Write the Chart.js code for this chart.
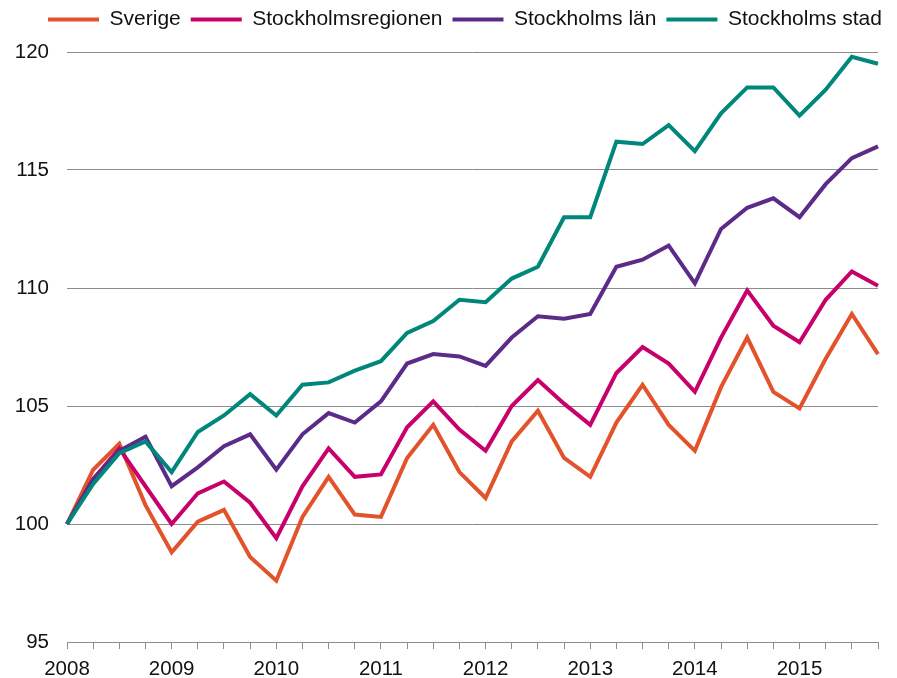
<!DOCTYPE html>
<html>
<head>
<meta charset="utf-8">
<title>Index</title>
<script src="https://cdn.jsdelivr.net/npm/chart.js@4"></script>
<style>
    html, body { margin: 0; padding: 0; background: #fff; }
    #wrap { width: 897px; height: 678px; }
</style>
</head>
<body>
<div id="wrap"><canvas id="chart" width="897" height="678"></canvas></div>
<script>
    // Quarters 2008 K1 .. 2015 K4
    const years = ['2008', '2009', '2010', '2011', '2012', '2013', '2014', '2015'];
    const quarters = ['K1', 'K2', 'K3', 'K4'];

    const sverige = [100, 102.3, 103.4, 100.8, 98.8, 100.1, 100.6, 98.6, 97.6, 100.3, 102.0, 100.4, 100.3, 102.8, 104.2, 102.2,
        101.1, 103.5, 104.8, 102.8, 102.0, 104.3, 105.9, 104.2, 103.1, 105.8, 107.9, 105.6, 104.9, 107.0, 108.9, 107.2];
    const stockholmsregionen = [100, 101.9, 103.2, 101.6, 100.0, 101.3, 101.8, 100.9, 99.4, 101.6, 103.2, 102.0, 102.1, 104.1, 105.2, 104.0,
        103.1, 105.0, 106.1, 105.1, 104.2, 106.4, 107.5, 106.8, 105.6, 107.9, 109.9, 108.4, 107.7, 109.5, 110.7, 110.1];
    const stockholmsLan = [100, 101.9, 103.1, 103.7, 101.6, 102.4, 103.3, 103.8, 102.3, 103.8, 104.7, 104.3, 105.2, 106.8, 107.2, 107.1,
        106.7, 107.9, 108.8, 108.7, 108.9, 110.9, 111.2, 111.8, 110.2, 112.5, 113.4, 113.8, 113.0, 114.4, 115.5, 116.0];
    const stockholmsStad = [100, 101.7, 103.0, 103.5, 102.2, 103.9, 104.6, 105.5, 104.6, 105.9, 106.0, 106.5, 106.9, 108.1, 108.6, 109.5,
        109.4, 110.4, 110.9, 113.0, 113.0, 116.2, 116.1, 116.9, 115.8, 117.4, 118.5, 118.5, 117.3, 118.4, 119.8, 119.5];

    const labels = [];
    years.forEach(function(y) {
        quarters.forEach(function(q) {
            labels.push(y + ' ' + q);
        });
    });

    const font = 'Liberation Sans, Arial, sans-serif';
    const gridColor = '#8c8c8c';
    const legendShiftX = 26;
    const legendShiftY = -12;

    function series(label, data, color, order) {
        return {
            label: label,
            data: data,
            borderColor: color,
            backgroundColor: color,
            borderWidth: 4,
            pointRadius: 0,
            tension: 0,
            order: order
        };
    }

    // The legend row is wider than the plot, so nudge it instead of centring on the canvas
    const legendShift = {
        id: 'legendShift',
        beforeDraw: function(chart) {
            const legend = chart.legend;
            if (!legend || legend._shifted) {
                return;
            }
            const draw = legend.draw;
            legend.draw = function() {
                chart.ctx.save();
                chart.ctx.translate(legendShiftX, legendShiftY);
                draw.apply(this, arguments);
                chart.ctx.restore();
            };
            legend._shifted = true;
        }
    };

    new Chart(document.getElementById('chart').getContext('2d'), {
        type: 'line',
        data: {
            labels: labels,
            datasets: [
                series('Sverige', sverige, '#e2532c', 4),
                series('Stockholmsregionen', stockholmsregionen, '#c8006c', 3),
                series('Stockholms län', stockholmsLan, '#5c2a88', 2),
                series('Stockholms stad', stockholmsStad, '#00877b', 1)
            ]
        },
        plugins: [legendShift],
        options: {
            responsive: false,
            animation: false,
            layout: {
                padding: { left: 0, right: 19, top: 0, bottom: 0 }
            },
            plugins: {
                tooltip: { enabled: false },
                legend: {
                    position: 'top',
                    labels: {
                        boxWidth: 51,
                        boxHeight: 0,
                        padding: 10,
                        color: '#111',
                        font: { family: font, size: 21 },
                        sort: function(a, b) {
                            return a.datasetIndex - b.datasetIndex;
                        }
                    }
                }
            },
            scales: {
                x: {
                    offset: false,
                    grid: {
                        drawOnChartArea: false,
                        drawTicks: true,
                        tickLength: 7,
                        color: gridColor
                    },
                    border: { display: true, color: gridColor, width: 1 },
                    ticks: {
                        autoSkip: false,
                        maxRotation: 0,
                        padding: 8,
                        color: '#111',
                        font: { family: font, size: 20.5 },
                        callback: function(value, index) {
                            return index % 4 === 0 ? years[index / 4] : '';
                        }
                    },
                    afterFit: function(scale) {
                        scale.height = 36;
                    }
                },
                y: {
                    min: 95,
                    max: 120,
                    grid: {
                        color: gridColor,
                        drawTicks: false
                    },
                    border: { display: false },
                    ticks: {
                        stepSize: 5,
                        padding: 18,
                        color: '#111',
                        font: { family: font, size: 20.5 }
                    },
                    afterFit: function(scale) {
                        scale.width = 67;
                        scale.paddingTop = 52;
                    }
                }
            }
        }
    });
</script>
</body>
</html>
